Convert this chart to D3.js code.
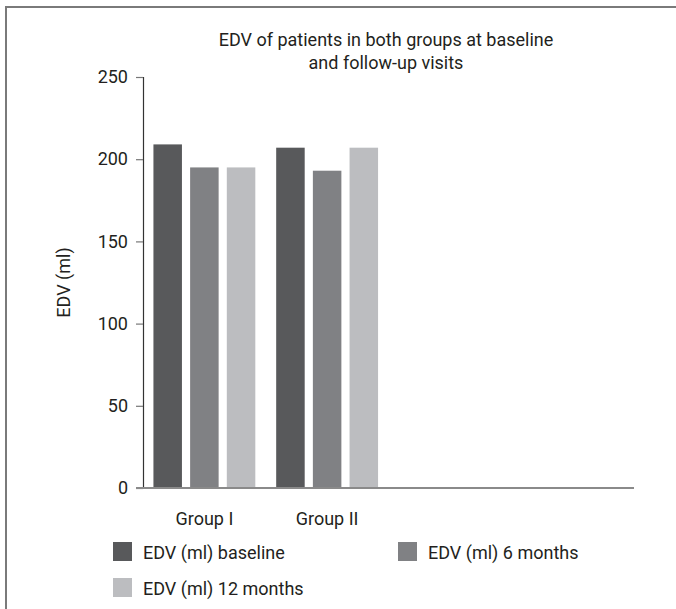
<!DOCTYPE html>
<html>
<head>
<meta charset="utf-8">
<script src="https://cdn.jsdelivr.net/npm/d3@7"></script>
<style>
    body { margin: 0; background: #fff; }
    svg text { font-family: Roboto, "Liberation Sans", sans-serif; fill: #231f20; }
</style>
</head>
<body>
<svg id="chart" width="676" height="609"></svg>
<script>
// chart data
var categories = ["Group I", "Group II", "", ""];
var seriesNames = ["EDV (ml) baseline", "EDV (ml) 6 months", "EDV (ml) 12 months"];
var baseline = [209, 207];
var sixMonths = [195, 193];
var twelveMonths = [195, 207];
var yTicks = [0, 50, 100, 150, 200, 250];
var titleLines = ["EDV of patients in both groups at baseline", "and follow-up visits"];
var yLabel = "EDV (ml)";

var colors = ["#58595b", "#808184", "#bcbdc0"];
var fontSize = "18px";

var svg = d3.select("#chart");
var margin = {left: 143, right: 42, top: 77, bottom: 121};
var width = 676, height = 609;

// frame (top and left edge only)
svg.append("path")
    .attr("d", "M6,609V7H676")
    .attr("fill", "none")
    .attr("stroke", "#7a7a7a")
    .attr("stroke-width", 2);

var x0 = d3.scaleBand()
    .domain(d3.range(categories.length))
    .range([margin.left, width - margin.right])
    .paddingInner(0.17)
    .paddingOuter(0.085);

var x1 = d3.scaleBand()
    .domain(d3.range(seriesNames.length))
    .range([0, x0.bandwidth()])
    .paddingInner(0.223);

var y = d3.scaleLinear()
    .domain([0, 250])
    .range([height - margin.bottom, margin.top]);

var series = [baseline, sixMonths, twelveMonths];

// bars
var groups = svg.append("g").selectAll("g")
    .data(d3.range(baseline.length))
    .enter()
    .append("g")
    .attr("transform", function (d) { return "translate(" + x0(d) + ",0)"; });

groups.selectAll("rect")
    .data(function (g) {
        return series.map(function (s, i) { return {s: i, v: s[g]}; });
    })
    .enter()
    .append("rect")
    .attr("x", function (d) { return x1(d.s); })
    .attr("y", function (d) { return y(d.v); })
    .attr("width", x1.bandwidth())
    .attr("height", function (d) { return y(0) - y(d.v); })
    .attr("fill", function (d) { return colors[d.s]; });

// y axis
var yAxis = svg.append("g")
    .attr("transform", "translate(" + margin.left + ",0)")
    .call(d3.axisLeft(y).tickValues(yTicks).tickSize(7).tickPadding(8));
yAxis.select(".domain").attr("stroke", "#333").attr("stroke-width", 1.2);
yAxis.selectAll(".tick line").attr("stroke", "#777").attr("stroke-width", 1.2);
yAxis.selectAll("text")
    .attr("fill", "#231f20")
    .style("font-size", fontSize);

// x axis
var xAxis = svg.append("g")
    .attr("transform", "translate(0," + y(0) + ")")
    .call(d3.axisBottom(x0).tickSize(0).tickPadding(24)
        .tickFormat(function (i) { return categories[i]; }));
xAxis.select(".domain").remove();
xAxis.selectAll("text")
    .attr("fill", "#231f20")
    .style("font-size", fontSize);
xAxis.append("line")
    .attr("x1", margin.left - 7)
    .attr("x2", x0.range()[1])
    .attr("stroke", "#8a8a8a")
    .attr("stroke-width", 2);

// y label
svg.append("text")
    .attr("transform", "translate(70," + ((y(0) + y(250)) / 2) + ") rotate(-90)")
    .attr("text-anchor", "middle")
    .style("font-size", fontSize)
    .text(yLabel);

// title
svg.append("g").selectAll("text")
    .data(titleLines)
    .enter()
    .append("text")
    .attr("x", 386)
    .attr("y", function (d, i) { return 46 + i * 23; })
    .attr("text-anchor", "middle")
    .style("font-size", fontSize)
    .text(function (d) { return d; });

// legend
var legendPos = [[113, 542], [398, 542], [113, 578]];
var legend = svg.append("g").selectAll("g")
    .data(seriesNames)
    .enter()
    .append("g")
    .attr("transform", function (d, i) { return "translate(" + legendPos[i][0] + "," + legendPos[i][1] + ")"; });
legend.append("rect")
    .attr("width", 19)
    .attr("height", 19)
    .attr("fill", function (d, i) { return colors[i]; });
legend.append("text")
    .attr("x", 30)
    .attr("y", 17)
    .style("font-size", fontSize)
    .text(function (d) { return d; });
</script>
</body>
</html>
